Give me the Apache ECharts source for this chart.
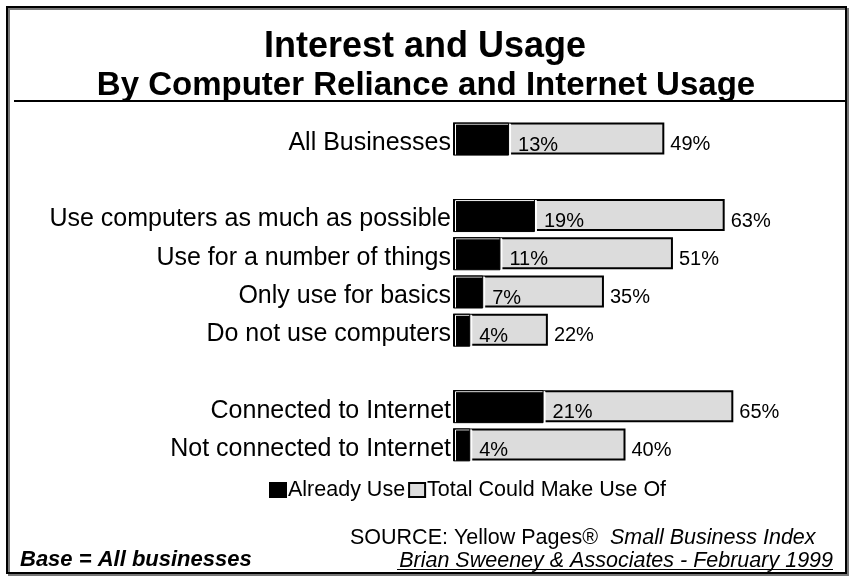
<!DOCTYPE html>
<html>
<head>
<meta charset="utf-8">
<script src="https://cdn.jsdelivr.net/npm/echarts@6/dist/echarts.min.js"></script>
<style>
  html, body { margin: 0; padding: 0; background: #fff; }
  #chart { width: 849px; height: 577px; }
</style>
</head>
<body>
<div id="chart"></div>
<script>
// Row labels (blank entries separate the three groups)
var categories = [
  'All Businesses',
  '',
  'Use computers as much as possible',
  'Use for a number of things',
  'Only use for basics',
  'Do not use computers',
  ' ',
  'Connected to Internet',
  'Not connected to Internet'
];
// Percent of businesses already using
var alreadyUse = [13, null, 19, 11, 7, 4, null, 21, 4];
// Percent of businesses that could make use of it in total
var totalCouldUse = [49, null, 63, 51, 35, 22, null, 65, 40];

var seriesNames = ['Already Use', 'Total Could Make Use Of'];
var titleText = 'Interest and Usage';
var subtitleText = 'By Computer Reliance and Internet Usage';
var sourceLabel = 'SOURCE: Yellow Pages\u00AE  ';
var sourceTitle = 'Small Business Index';
var creditText = 'Brian Sweeney & Associates - February 1999';
var baseNote = 'Base = All businesses';

var FONT = 'Liberation Sans, Arial, sans-serif';

var chart = echarts.init(document.getElementById('chart'), null, { renderer: 'canvas' });

chart.setOption({
  backgroundColor: '#ffffff',
  animation: false,
  textStyle: { fontFamily: FONT, color: '#000' },
  grid: { left: 453, right: 51, top: 120, height: 344, containLabel: false },
  xAxis: {
    type: 'value', min: 0, max: 80,
    show: false
  },
  yAxis: {
    type: 'category',
    inverse: true,
    data: categories,
    axisLine: { show: false },
    axisTick: { show: false },
    splitLine: { show: false },
    axisLabel: {
      margin: 2,
      formatter: function (v) { return '{c|' + v + '}'; },
      rich: {
        c: { fontFamily: FONT, fontSize: 25, color: '#000', padding: [8, 0, 0, 0] }
      }
    }
  },
  legend: {
    left: 264, top: 474,
    itemWidth: 16, itemHeight: 14, itemGap: 3,
    icon: 'rect',
    data: seriesNames,
    textStyle: { fontFamily: FONT, fontSize: 21.5, color: '#000', padding: [4, 0, 0, -3] }
  },
  series: [
    {
      name: seriesNames[1],
      type: 'bar',
      data: totalCouldUse,
      barWidth: 32,
      z: 2,
      itemStyle: { color: '#dcdcdc', borderColor: '#000', borderWidth: 2 },
      label: {
        show: true, position: 'right', distance: 6, offset: [0, 6],
        formatter: '{c}%', fontFamily: FONT, fontSize: 20, color: '#000'
      }
    },
    {
      name: seriesNames[0],
      type: 'bar',
      data: alreadyUse,
      barWidth: 33,
      barGap: '-100%',
      z: 3,
      itemStyle: {
        color: '#000', borderColor: '#000', borderWidth: 1,
        shadowColor: '#ffffff', shadowOffsetX: 2, shadowOffsetY: 1, shadowBlur: 0
      },
      label: {
        show: true, position: 'right', distance: 9, offset: [0, 6],
        formatter: '{c}%', fontFamily: FONT, fontSize: 20, color: '#000'
      }
    }
  ],
  graphic: [
    // outer frame
    {
      type: 'rect', z: 0, silent: true,
      shape: { x: 7, y: 7, width: 839, height: 566 },
      style: { fill: 'none', stroke: '#000', lineWidth: 2,
               shadowColor: '#777', shadowOffsetX: 2, shadowOffsetY: 2, shadowBlur: 0 }
    },
    // rule under the heading
    {
      type: 'line', z: 10, silent: true,
      shape: { x1: 14, y1: 101, x2: 846, y2: 101 },
      style: { stroke: '#000', lineWidth: 2 }
    },
    {
      type: 'text', z: 10, silent: true, x: 425, y: 47,
      style: { text: titleText, fontFamily: FONT, fontSize: 36, fontWeight: 'bold',
               fill: '#000', align: 'center', verticalAlign: 'middle' }
    },
    {
      type: 'text', z: 10, silent: true, x: 426, y: 86,
      style: { text: subtitleText, fontFamily: FONT, fontSize: 33, fontWeight: 'bold',
               fill: '#000', align: 'center', verticalAlign: 'middle' }
    },
    {
      type: 'text', z: 10, silent: true, x: 350, y: 538,
      style: {
        text: '{n|' + sourceLabel + '}{i|' + sourceTitle + '}',
        align: 'left', verticalAlign: 'middle',
        rich: {
          n: { fontFamily: FONT, fontSize: 21.5, fill: '#000' },
          i: { fontFamily: FONT, fontSize: 21.5, fontStyle: 'italic', fill: '#000' }
        }
      }
    },
    {
      type: 'text', z: 10, silent: true, x: 833, y: 561,
      style: { text: creditText, fontFamily: FONT, fontSize: 21.5, fontStyle: 'italic',
               fill: '#000', align: 'right', verticalAlign: 'middle' }
    },
    {
      type: 'line', z: 10, silent: true,
      shape: { x1: 397, y1: 569.5, x2: 833, y2: 569.5 },
      style: { stroke: '#000', lineWidth: 1 }
    },
    {
      type: 'text', z: 10, silent: true, x: 20, y: 560,
      style: { text: baseNote, fontFamily: FONT, fontSize: 22, fontStyle: 'italic',
               fontWeight: 'bold', fill: '#000', align: 'left', verticalAlign: 'middle' }
    }
  ]
});
</script>
</body>
</html>
